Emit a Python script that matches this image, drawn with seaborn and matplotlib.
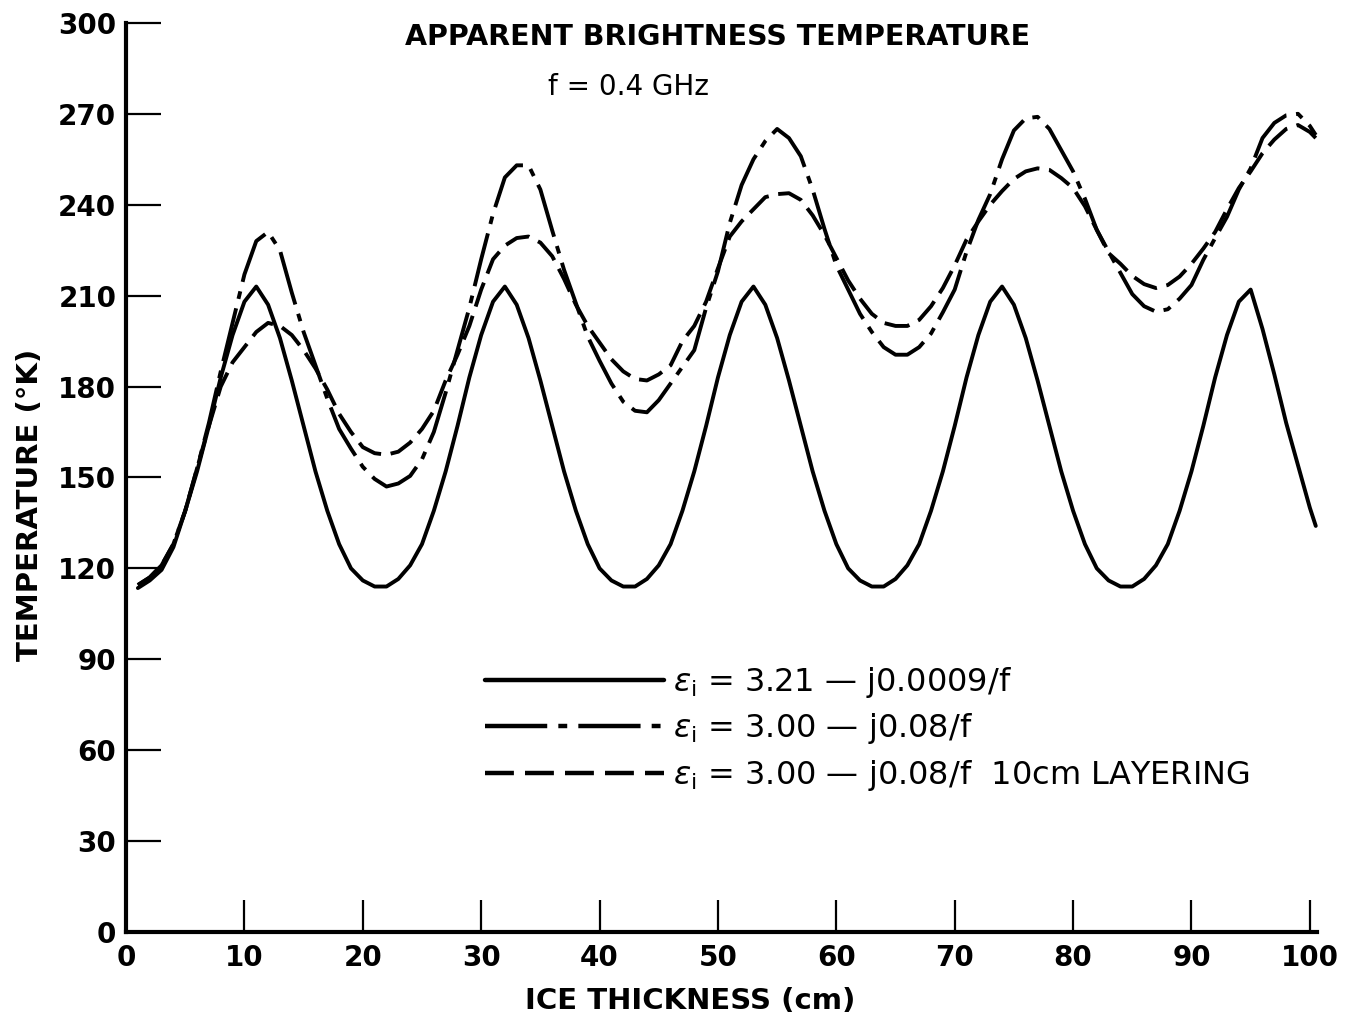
import numpy as np
import pandas as pd
import seaborn as sns
import matplotlib.pyplot as plt

# ice thickness (cm)
thickness = list(range(1, 101)) + [100.5]

# eps_i = 3.21 - j0.0009/f  (solid)
peak_cycle = [207, 196, 182, 167, 152, 139, 128, 120, 116, 114, 114,
              116.5, 121, 128, 139, 152, 167, 183, 197, 208, 213]
temp_lowloss = ([113.5, 116, 119.5, 127, 139, 152, 167, 183, 197, 208, 213]
                + peak_cycle * 4
                + [199, 184, 168, 154, 140, 134])
temp_lowloss[94] = 212

# eps_i = 3.00 - j0.08/f  (long-short dash)
temp_lossy = [114.5, 117, 121, 128, 139, 153, 168, 185, 201, 217,
              228, 231, 225, 211, 198, 187, 176, 166, 159.5, 153.5,
              149.5, 147, 148, 150.5, 156, 165, 178, 192, 206, 222,
              237, 249, 253, 253, 245, 231.5, 218.5, 207.5, 196.5, 188.5,
              181, 175, 172, 171.5, 175.5, 181, 186.5, 192, 206, 218,
              234, 246.5, 255, 261, 265, 262, 256, 245, 232, 220,
              212, 204, 198, 193, 190.5, 190.5, 193, 197.5, 204.5, 212,
              224.5, 235, 243.5, 255, 264.5, 268.5, 269, 265, 258, 251,
              242, 231.7, 224.5, 217.5, 210.5, 206.5, 204.7, 205.5, 209, 213.5,
              221.8, 229, 236, 245, 252, 262, 267, 269.5, 270, 266,
              263]

# eps_i = 3.00 - j0.08/f with 10 cm layering  (even dash)
temp_layered = [114.5, 117, 121, 128, 139, 153, 167, 180, 188, 193,
                198, 201, 200, 197, 192, 186, 179, 171, 165, 160,
                158, 157.5, 158.5, 161.5, 166, 172, 182, 190.5, 200, 212,
                222, 226.5, 229, 229.5, 227.5, 223, 215.5, 207, 200, 194.5,
                189, 185, 182.5, 182, 184, 187, 195, 200, 208, 219,
                229.5, 234.5, 238.5, 242.5, 243.5, 243.8, 241.6, 236.5, 230, 222.5,
                215, 209, 204, 201, 200, 200, 202, 206.5, 212.5, 220,
                228.5, 234.5, 240, 244.5, 248.5, 251, 252, 251.5, 248.8, 245.5,
                239.5, 231.7, 224, 220.5, 216.5, 213.8, 212.5, 213.5, 216.3, 220.5,
                225.5, 231, 238.5, 245.5, 251, 257, 261.5, 265, 266.3, 264,
                262]

curve_names = ["lowloss", "lossy", "layered"]
legend_labels = [r"$\epsilon_{\rm i}$ = 3.21 — j0.0009/f",
                 r"$\epsilon_{\rm i}$ = 3.00 — j0.08/f",
                 r"$\epsilon_{\rm i}$ = 3.00 — j0.08/f  10cm LAYERING"]

df = pd.concat([
    pd.DataFrame({"thickness": thickness, "temperature": temp_lowloss, "curve": "lowloss"}),
    pd.DataFrame({"thickness": thickness, "temperature": temp_lossy, "curve": "lossy"}),
    pd.DataFrame({"thickness": thickness, "temperature": temp_layered, "curve": "layered"}),
])

sns.set_style("ticks")
plt.rcParams['font.family'] = ['DejaVu Sans']
plt.rcParams['mathtext.fontset'] = 'dejavusans'
for key in ["text.color", "axes.labelcolor", "xtick.color", "ytick.color", "axes.edgecolor"]:
    plt.rcParams[key] = "black"

fig = plt.figure(figsize=(13.51, 10.18), dpi=100)
ax = fig.add_axes([0.0933, 0.0845, 0.885, 0.893])

sns.lineplot(data=df, x="thickness", y="temperature", style="curve",
             style_order=curve_names,
             dashes={"lowloss": "", "lossy": (14, 2.5, 2, 2.5), "layered": (6.5, 2.5)},
             color="black", linewidth=2.8, estimator=None, sort=False,
             legend=False, ax=ax)
for ln in ax.lines:
    ln.set_solid_joinstyle("round")
    ln.set_dash_joinstyle("round")

ax.set_xlim(0, 101)
ax.set_ylim(0, 300)
ax.set_xticks(np.arange(0, 101, 10))
ax.set_yticks(np.arange(0, 301, 30))

for s in ["top", "right"]:
    ax.spines[s].set_visible(False)
for s in ["left", "bottom"]:
    ax.spines[s].set_linewidth(3)
ax.spines["bottom"].set_bounds(0, 100.6)

ax.tick_params(axis="y", direction="in", length=25, width=1.6, pad=7, labelsize=20)
ax.tick_params(axis="x", direction="in", length=23, width=1.6, pad=9, labelsize=20)
for lab in ax.get_xticklabels() + ax.get_yticklabels():
    lab.set_fontweight("bold")

ax.set_xlabel("ICE THICKNESS (cm)", fontsize=21, fontweight="bold")
ax.set_ylabel("TEMPERATURE (°K)", fontsize=21, fontweight="bold")
ax.xaxis.set_label_coords(0.4716, -0.060)
ax.yaxis.set_label_coords(-0.069, 0.47)

fig.text(0.531, 0.9637, "APPARENT BRIGHTNESS TEMPERATURE", ha="center", va="center",
         fontsize=20.5, fontweight="bold")
fig.text(0.465, 0.9145, "f = 0.4 GHz", ha="center", va="center", fontsize=20)

leg = ax.legend(ax.lines, legend_labels, loc="upper left", bbox_to_anchor=(0.300, 0.294),
                frameon=False, fontsize=23, handlelength=5.6, handletextpad=0.3,
                labelspacing=0.36, borderpad=0, borderaxespad=0)
for h in leg.get_lines():
    h.set_linewidth(3.2)

fig.savefig("out.png", dpi=100, facecolor="white")
